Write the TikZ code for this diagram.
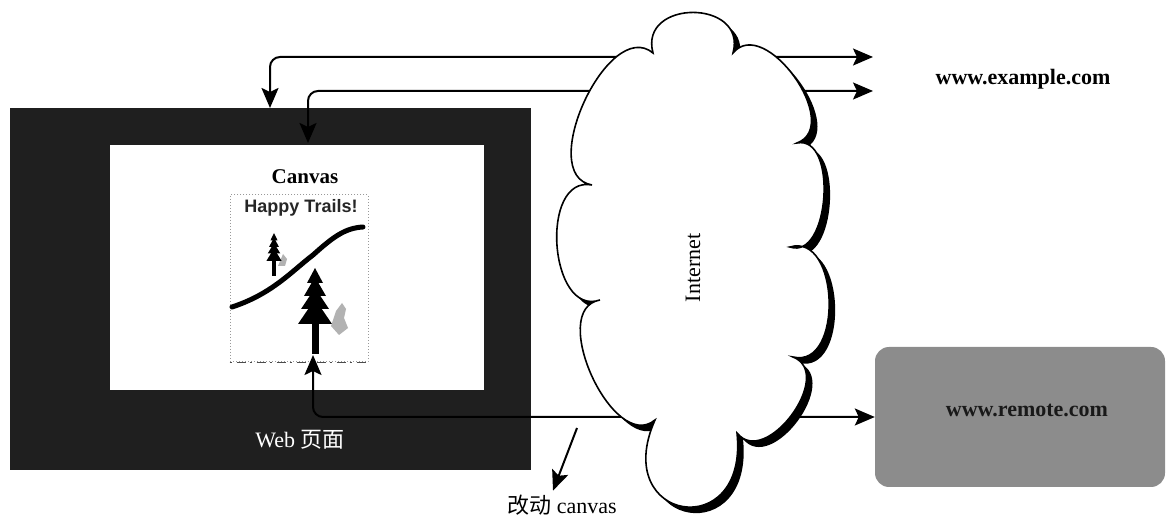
\documentclass[tikz,border=0pt]{standalone}
\usepackage{fontspec}
\setmainfont{Liberation Serif}
\newfontfamily\cjkfont{Noto Sans CJK SC}
\newfontfamily\trailfont{Liberation Sans}
\usetikzlibrary{arrows.meta,calc}

% one rounded lobe of the cloud outline, bulging outward (clockwise traversal)
\newcommand\lobe[3]{.. controls ($(#1)!#3pt!105:(#2)$) and ($(#2)!#3pt!-105:(#1)$) .. (#2)}
\newcommand\cloudpath{(P1) \lobe{P1}{P2}{56} \lobe{P2}{P3}{50} \lobe{P3}{P4}{42}
  \lobe{P4}{P5}{52} \lobe{P5}{P6}{46} \lobe{P6}{P7}{112} \lobe{P7}{P8}{54}
  \lobe{P8}{P9}{54} \lobe{P9}{P1}{58} -- cycle}

\tikzset{
  pinetree/.pic={
    \fill (0,0) -- (-8,-15) -- (8,-15) -- cycle;
    \fill (0,-9) -- (-11,-28) -- (11,-28) -- cycle;
    \fill (0,-20) -- (-14,-41) -- (14,-41) -- cycle;
    \fill (0,-31) -- (-17,-56) -- (17,-56) -- cycle;
    \fill (-3.5,-54) rectangle (3.5,-86);
  }
}

\begin{document}
\begin{tikzpicture}[x=1pt,y=1pt,
  lbl/.style={font=\fontsize{22}{26}\selectfont\bfseries, inner sep=0pt},
  plain/.style={font=\fontsize{22}{26}\selectfont, inner sep=0pt},
  conn/.style={line width=2pt, rounded corners=10pt},
  >={Stealth[length=20pt,width=17pt,inset=4pt]}]
\useasboundingbox (0,0) rectangle (1166,516);

% web page frame and page area
\node[fill=black!88, minimum width=521pt, minimum height=362pt, inner sep=0pt] (web) at (270.5,227) {};
\node[fill=white, minimum width=374pt, minimum height=245pt, inner sep=0pt] (page) at (297,248.5) {};
\node[text=white, plain] (weblbl) at (300,76) {Web {\cjkfont 页面}};

% canvas element
\node[font=\fontsize{21}{24}\selectfont\bfseries, inner sep=0pt] (canvaslbl) at (305,339) {Canvas};
\node[draw=black!40, dotted, line width=1pt, minimum width=138pt, minimum height=167pt, inner sep=0pt] (canvasimg) at (299,237.5) {};
\draw[black!70, line width=1.5pt, dash pattern=on 2pt off 5pt on 9pt off 4pt]
  (canvasimg.south west) -- (canvasimg.south east);
\node[font=\trailfont\fontsize{18}{20}\selectfont\bfseries, text=black!85, inner sep=0pt] (trails) at (301,308) {Happy Trails!};
\draw[line width=5pt, line cap=round] (232,209) .. controls (272,222) and (292,245) .. (313,261)
  .. controls (333,279) and (345,288) .. (363,289);
\fill[black!30] (331,190) -- (336,205) -- (342,213) -- (346,207) -- (344,198) -- (348,188) -- (339,181) -- cycle;
\fill[black!30] (278,250) -- (283,262) -- (287,257) -- (285,250) -- cycle;
\pic at (315,248) {pinetree};
\pic[xscale=0.45, yscale=0.5] at (274,283) {pinetree};

% remote server
\node[fill=black!45, rounded corners=14pt, minimum width=290pt, minimum height=140pt, inner sep=0pt] (remote) at (1020,99) {};
\node[lbl, text=black!90] (remotetxt) at (1027,106) {www.remote.com};
\node[lbl] (example) at (1023,437) {www.example.com};

% connectors through the internet
\coordinate (in1) at (270,408);
\coordinate (out1) at (873,459);
\coordinate (in2) at (308,373);
\coordinate (out2) at (873,425);
\coordinate (in3) at (313,161);
\draw[conn,<->] (in1) |- (out1);
\draw[conn,<->] (in2) |- (out2);
\draw[conn,<->] (in3) |- (remote.west);

% internet cloud with drop shadow
\coordinate (P1) at (653,463);
\coordinate (P2) at (733,463);
\coordinate (P3) at (797,373);
\coordinate (P4) at (790,269);
\coordinate (P5) at (793,159);
\coordinate (P6) at (737,83);
\coordinate (P7) at (655,96);
\coordinate (P8) at (600,216);
\coordinate (P9) at (592,331);
\begin{scope}[transform canvas={shift={(6pt,-6pt)}}]
  \fill[black] \cloudpath;
\end{scope}
\draw[fill=white, line width=1.6pt] \cloudpath;
\node[plain, rotate=90] (internet) at (693,248) {Internet};

% canvas modification
\node[plain] (change) at (562,11) {{\cjkfont 改动} canvas};
\coordinate (chg) at (577,88);
\draw[line width=2pt,->] (chg) -- ($(change.north)+(-9,4)$);
\end{tikzpicture}
\end{document}
